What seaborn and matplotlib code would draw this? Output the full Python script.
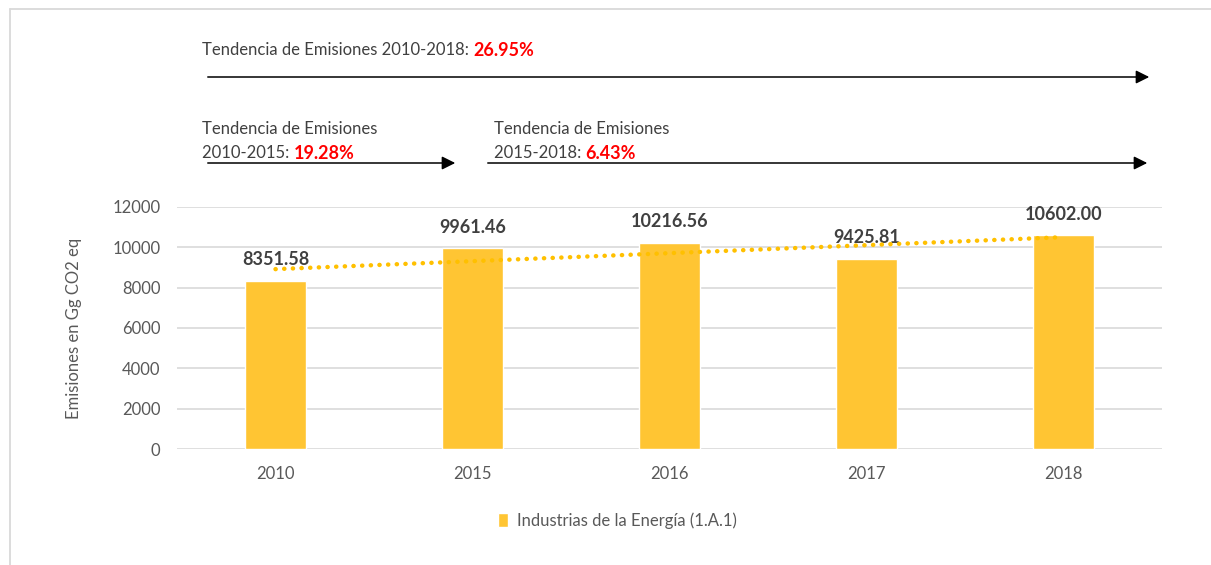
import numpy as np
import pandas as pd
import matplotlib
matplotlib.use("Agg")
import matplotlib.pyplot as plt
import seaborn as sns

# Emissions of the energy industries (1.A.1), Gg CO2 eq
years = ["2010", "2015", "2016", "2017", "2018"]
emissions = [8351.58, 9961.46, 10216.56, 9425.81, 10602.00]
series_name = "Industrias de la Energía (1.A.1)"

trend_head = ["", "Tendencia de Emisiones", "Tendencia de Emisiones"]
trend_tail = ["Tendencia de Emisiones 2010-2018: ", "2010-2015: ", "2015-2018: "]
trend_values = ["26.95%", "19.28%", "6.43%"]

y_ticks = [0, 2000, 4000, 6000, 8000, 10000, 12000]

sns.set_style("white")
plt.rcParams["font.family"] = ["Lato", "DejaVu Sans"]

BAR = "#FFC533"
TREND = "#FFC000"
TXT = "#595959"
DARK = "#404040"

W, H = 1211, 565
fig = plt.figure(figsize=(W / 100, H / 100), dpi=100)


def fx(px):
    return px / W


def fy(py):
    return 1 - py / H


ax = fig.add_axes([fx(177), fy(449), fx(1162) - fx(177), (449 - 207) / H])

df = pd.DataFrame({"Año": years, "Emisiones": emissions})
sns.barplot(data=df, x="Año", y="Emisiones", color=BAR, width=0.31,
            saturation=1, ax=ax, label=series_name)

# linear trend across the five years
sns.regplot(x=np.arange(len(years)), y=np.array(emissions), scatter=False,
            ci=None, truncate=True, ax=ax,
            line_kws=dict(color=TREND, lw=3.2, ls=(0, (0.05, 1.9)),
                          dash_capstyle="round", zorder=4))

ax.set_ylim(0, 12000)
ax.set_xlim(-0.5, len(years) - 0.5)
ax.set_yticks(y_ticks)
ax.set_yticklabels([str(v) for v in y_ticks])
ax.grid(axis="y", color="#D9D9D9", lw=1.2)
ax.set_axisbelow(True)
for s in ax.spines.values():
    s.set_visible(False)
ax.tick_params(axis="both", length=0, labelsize=12, colors=TXT)
ax.tick_params(axis="y", pad=12)
ax.tick_params(axis="x", pad=12)
ax.set_xlabel("")
ax.set_ylabel("Emisiones en Gg CO2 eq", fontsize=12, color=TXT, labelpad=22)

# value labels above the bars
for i, v in enumerate(emissions):
    ax.annotate(f"{v:.2f}", (i, v), xytext=(0, 9), textcoords="offset points",
                ha="center", va="bottom", fontsize=13, fontweight="bold",
                color=DARK)

leg = ax.legend(loc="upper center", bbox_to_anchor=(0.447, -0.2), frameon=False,
                fontsize=12, handlelength=0.6, handleheight=0.9,
                handletextpad=0.5, labelcolor=TXT)

# trend notes with arrows above the plot
notes = [(202, 50, 0), (202, 153, 1), (494, 153, 2)]
for x0, y0, k in notes:
    if trend_head[k]:
        fig.text(fx(x0), fy(y0 - 24), trend_head[k], ha="left", va="center",
                 fontsize=12, color=DARK)
    t = fig.text(fx(x0), fy(y0), trend_tail[k], ha="left", va="center",
                 fontsize=12, color=DARK)
    fig.add_artist(plt.Annotation(trend_values[k], xy=(1, 0.5), xycoords=t,
                                  ha="left", va="center", fontsize=13,
                                  fontweight="bold", color="#FF0000",
                                  annotation_clip=False))

arrows = [(205, 1152, 77), (205, 458, 163), (485, 1150, 163)]
for xa, xb, ya in arrows:
    fig.add_artist(matplotlib.patches.FancyArrowPatch(
        (fx(xa), fy(ya)), (fx(xb), fy(ya)), transform=fig.transFigure,
        arrowstyle="-|>", mutation_scale=20, lw=1.1, color="black"))

# outer chart border
fig.add_artist(plt.Line2D([fx(9.5), fx(9.5)], [0, fy(8.5)],
                          transform=fig.transFigure, color="#D9D9D9", lw=1.3))
fig.add_artist(plt.Line2D([fx(9.5), 1], [fy(8.5), fy(8.5)],
                          transform=fig.transFigure, color="#D9D9D9", lw=1.3))

fig.savefig("out.png", dpi=100)
